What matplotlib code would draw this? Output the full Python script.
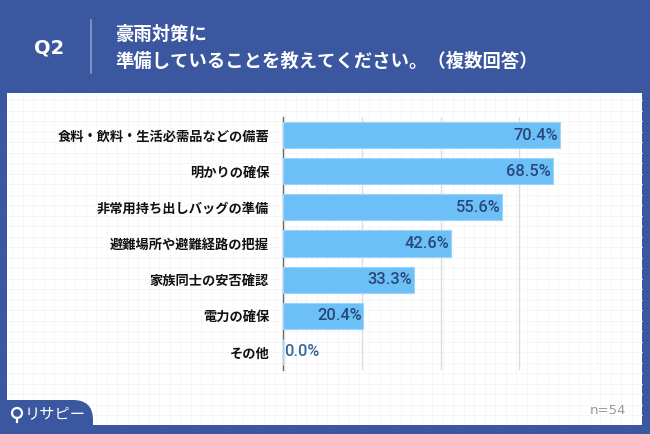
import numpy as np
import matplotlib.pyplot as plt
from matplotlib.patches import Rectangle, FancyBboxPatch, Circle

plt.rcParams['font.family'] = ['Noto Sans CJK JP', 'DejaVu Sans']

# data
categories = ['食料・飲料・生活必需品などの備蓄', '明かりの確保', '非常用持ち出しバッグの準備',
              '避難場所や避難経路の把握', '家族同士の安否確認', '電力の確保', 'その他']
values = [70.4, 68.5, 55.6, 42.6, 33.3, 20.4, 0.0]
title_q = 'Q2'
title_lines = ['豪雨対策に', '準備していることを教えてください。（複数回答）']
n_label = 'n=54'

blue = '#3A579F'
bar_c = '#6DBFF8'
W, H = 650, 434

fig = plt.figure(figsize=(6.5, 4.34), dpi=100)
fig.patch.set_facecolor(blue)

# background layer in pixel coordinates
bg = fig.add_axes([0, 0, 1, 1])
bg.set_xlim(0, W)
bg.set_ylim(H, 0)
bg.axis('off')

# white panel with faint grid
bg.add_patch(Rectangle((7, 93), 635, 332, facecolor='white', edgecolor='none', zorder=1))
for gx in np.arange(12, 642, 10.5):
    bg.plot([gx, gx], [93, 425], color='#F5F5F5', lw=0.6, zorder=2)
for gy in np.arange(100, 425, 10.5):
    bg.plot([7, 642], [gy, gy], color='#F5F5F5', lw=0.6, zorder=2)

# header
bg.text(49, 48, title_q, color='white', fontsize=14, fontweight='bold',
        ha='center', va='center', family=['DejaVu Sans'])
bg.plot([90.5, 90.5], [20, 73], color='#8A9CC8', lw=1.2)
bg.text(115, 35, title_lines[0], color='white', fontsize=13.2, fontweight='bold', va='center')
bg.text(115, 61, title_lines[1], color='white', fontsize=13.2, fontweight='bold', va='center')

# bottom-left tab
bg.add_patch(FancyBboxPatch((-30, 400), 123, 60, boxstyle='round,pad=0,rounding_size=20',
                            facecolor=blue, edgecolor='none', zorder=3))
bg.add_patch(Rectangle((0, 425), W, 20, facecolor=blue, edgecolor='none', zorder=3))
bg.add_patch(Circle((17, 413), 5, facecolor='none', edgecolor='white', lw=1.6, zorder=4))
bg.plot([17, 17], [418, 422], color='white', lw=1.6, zorder=4)
bg.text(25, 414, 'リサピー', color='white', fontsize=11, va='center', zorder=4)

bg.text(626, 410, n_label, color='#999999', fontsize=9.5, ha='right', va='center',
        family=['DejaVu Sans'])

# bar chart
ax = fig.add_axes([283 / W, 1 - 370 / H, (598 - 283) / W, (370 - 117) / H])
ax.patch.set_alpha(0)
y = np.arange(len(categories))
ax.barh(y, values, height=0.72, color=bar_c, edgecolor='#9ED4FA', lw=0.8, zorder=3)
ax.set_xlim(0, 80)
ax.set_ylim(len(categories) - 0.5, -0.5)
ax.set_xticks([20, 40, 60, 80])
ax.xaxis.grid(True, color='#DDDDDD', lw=1)
ax.set_axisbelow(True)
ax.tick_params(axis='x', length=0, labelbottom=False)
ax.tick_params(axis='y', length=0, pad=10)
ax.set_yticks(y)
ax.set_yticklabels(categories, fontsize=9.5, fontweight='bold', color='#111111')
for s in ['top', 'right', 'bottom']:
    ax.spines[s].set_visible(False)
ax.spines['left'].set_color('#666666')
ax.spines['left'].set_linewidth(1)

for i, v in enumerate(values):
    if v > 5:
        ax.text(v - 0.4, i, f'{v:.1f}%', ha='right', va='center', fontsize=11.8,
                fontweight='medium', color='#26497A', zorder=4, family=['Roboto', 'DejaVu Sans'])
    else:
        ax.text(v + 0.4, i, f'{v:.1f}%', ha='left', va='center', fontsize=11.8,
                fontweight='medium', color='#3566A0', zorder=4, family=['Roboto', 'DejaVu Sans'])

fig.savefig('out.png', dpi=100, facecolor=blue)
